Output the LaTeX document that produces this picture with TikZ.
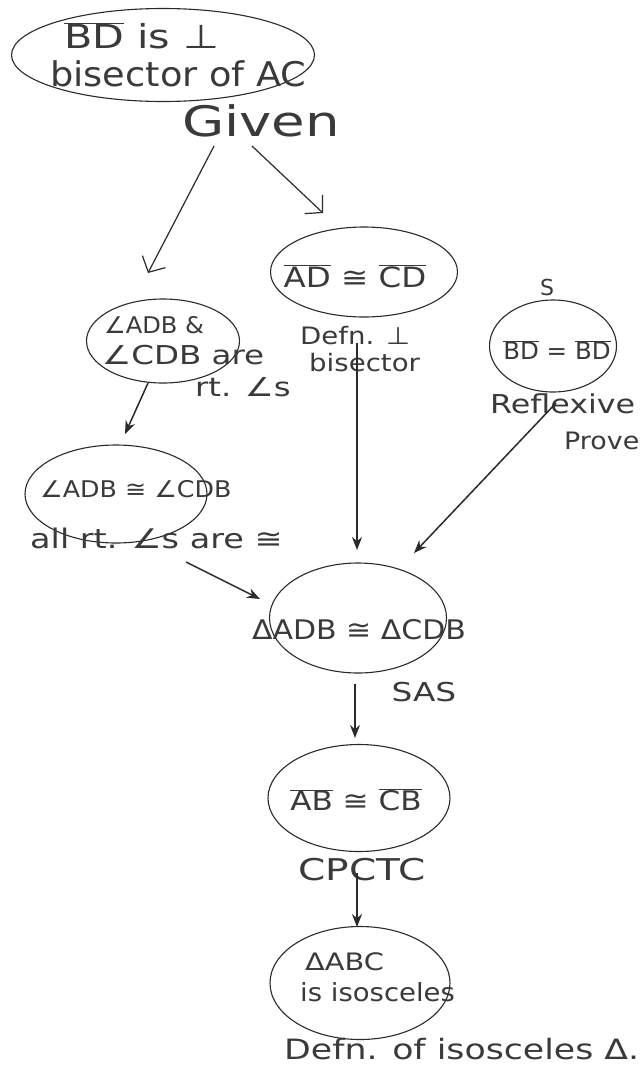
\documentclass[tikz,border=0pt]{standalone}
\usepackage{graphicx}
\usepackage{fontspec}
\setmainfont{DejaVu Sans}
\usetikzlibrary{shapes.geometric,arrows.meta}
\definecolor{ink}{HTML}{2A2A2A}
\definecolor{pencil}{HTML}{3A3A3A}
\newcommand{\seg}[1]{$\overline{\mbox{#1}}$}
\newcommand{\hw}[3]{{\fontsize{#1}{#1}\selectfont\scalebox{#2}[1]{#3}}}
\begin{document}
\begin{tikzpicture}[x=1pt,y=-1pt,
  oval/.style={draw=ink, ellipse, line width=1.1pt, inner sep=0pt},
  txt/.style={text=pencil, inner sep=0pt},
  arr/.style={draw=ink, line width=1.5pt, -{Stealth[length=13pt,width=10pt]}},
  barb/.style={draw=ink, line width=1.2pt, -{Straight Barb[length=12pt,width=26pt]}}
]
\useasboundingbox (0,0) rectangle (641,1072);
\fill[white] (0,0) rectangle (641,1072);

% ellipses
\node[oval, minimum width=303pt, minimum height=93pt] (given) at (163,55) {};
\node[oval, minimum width=187pt, minimum height=90pt] (adcd) at (364,272) {};
\node[oval, minimum width=153pt, minimum height=84pt] (rt) at (163,341) {};
\node[oval, minimum width=127pt, minimum height=92pt] (bdbd) at (553,346) {};
\node[oval, minimum width=182pt, minimum height=98pt] (angc) at (116,494) {};
\node[oval, minimum width=177pt, minimum height=110pt] (tri) at (358,618) {};
\node[oval, minimum width=182pt, minimum height=107pt] (abcb) at (359,798) {};
\node[oval, minimum width=180pt, minimum height=113pt] (iso) at (360,983) {};

% texts
\node[txt, anchor=west] (g1) at (64,36) {\hw{33}{1.25}{\seg{BD} is ⊥}};
\node[txt, anchor=west] (g2) at (50,74) {\hw{34}{1.08}{bisector of AC}};
\node[txt] (givenlbl) at (261,121) {\hw{42}{1.3}{Given}};

\node[txt] (t2) at (355,276) {\hw{28}{1.16}{\seg{AD} ≅ \seg{CD}}};
\node[txt, anchor=west] (d1) at (300,336) {\hw{24}{1.15}{Defn. ⊥}};
\node[txt, anchor=west] (d2) at (309,363) {\hw{24}{1.15}{bisector}};

\node[txt, anchor=west] (r1) at (104,325) {\hw{23}{1.05}{∠ADB \&}};
\node[txt, anchor=west] (r2) at (102,355) {\hw{26}{1.25}{∠CDB are}};
\node[txt, anchor=west] (r3) at (195,387) {\hw{26}{1.24}{rt. ∠s}};

\node[txt] (t4) at (557,350) {\hw{24}{1.02}{\seg{BD} = \seg{BD}}};
\node[txt] (s) at (547,287) {\hw{22}{1}{S}};
\node[txt, anchor=west] (ref) at (490,404) {\hw{26}{1.22}{Reflexive}};
\node[txt, anchor=west] (prv) at (564,441) {\hw{24}{1.12}{Prove}};

\node[txt, anchor=west] (t5) at (40,489) {\hw{23}{1.1}{∠ADB ≅ ∠CDB}};
\node[txt, anchor=west] (all) at (30,538) {\hw{27}{1.24}{all rt. ∠s are ≅}};

\node[txt] (t6) at (359,630) {\hw{27}{1.11}{ΔADB ≅ ΔCDB}};
\node[txt] (sas) at (424,692) {\hw{26}{1.26}{SAS}};

\node[txt] (t7) at (356,800) {\hw{27}{1.15}{\seg{AB} ≅ \seg{CB}}};
\node[txt] (cp) at (362,870) {\hw{30}{1.3}{CPCTC}};

\node[txt, anchor=west] (i1) at (305,962) {\hw{24}{1.2}{ΔABC}};
\node[txt, anchor=west] (i2) at (300,992) {\hw{25}{1.1}{is isosceles}};
\node[txt, anchor=west] (di) at (284,1049) {\hw{28}{1.24}{Defn. of isosceles Δ.}};

% arrow end points
\coordinate (a1s) at (214,146); \coordinate (a1e) at (148,273);
\coordinate (a2s) at (252,146); \coordinate (a2e) at (323,213);
\coordinate (a3s) at (148,383); \coordinate (a3e) at (125,434);
\coordinate (a4s) at (186,562); \coordinate (a4e) at (260,599);
\coordinate (a5s) at (357,343); \coordinate (a5e) at (357,550);
\coordinate (a6s) at (556,403); \coordinate (a6e) at (414,553);
\coordinate (a7s) at (355,684); \coordinate (a7e) at (355,738);
\coordinate (a8s) at (357,873); \coordinate (a8e) at (357,927);

\draw[barb] (a1s) -- (a1e);
\draw[barb] (a2s) -- (a2e);
\draw[arr] (a3s) -- (a3e);
\draw[arr] (a4s) -- (a4e);
\draw[arr] (a5s) -- (a5e);
\draw[arr] (a6s) -- (a6e);
\draw[arr] (a7s) -- (a7e);
\draw[arr] (a8s) -- (a8e);
\end{tikzpicture}
\end{document}
